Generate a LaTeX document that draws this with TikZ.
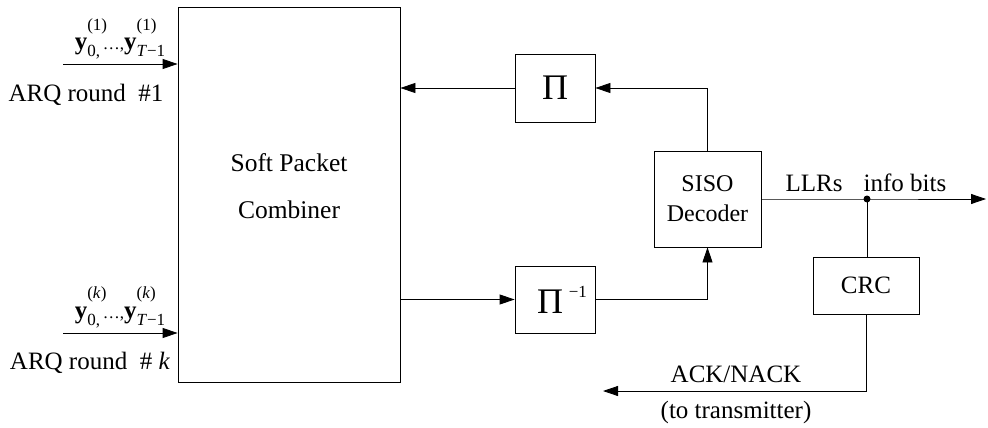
\documentclass[tikz,border=0pt]{standalone}
\usepackage{fontspec}
\setmainfont{Liberation Serif}
\usetikzlibrary{arrows.meta}
\newcommand{\scr}[1]{{\fontsize{17}{17}\selectfont #1}}
\newcommand{\yvar}[3]{\textbf{y}\rlap{\raisebox{0.8em}{\scr{#1}}}\raisebox{-0.28em}{\scr{#2}}#3}
\begin{document}
\begin{tikzpicture}[x=1pt,y=-1pt,
  font=\fontsize{25}{29}\selectfont,
  line width=0.8pt,
  box/.style={draw, inner sep=0pt},
  arr/.style={-{Triangle[length=15pt,width=10pt]}},
  lbl/.style={inner sep=0pt}]
\useasboundingbox (0,0) rectangle (988,428);
% blocks
\node[box, minimum width=222pt, minimum height=375pt] (comb) at (289,194.5) {};
\node[lbl, align=center, font=\fontsize{25.5}{47}\selectfont] (combtxt) at (289,186) {Soft Packet\\Combiner};
\node[box, minimum width=80pt, minimum height=68pt] (pi) at (555,88) {\fontsize{36}{36}\selectfont Π};
\node[box, minimum width=80pt, minimum height=67pt] (pinv) at (555,299.5) {};
\node[lbl] (pinvtxt) at (562,300) {\fontsize{36}{36}\selectfont Π\raisebox{0.45em}{\fontsize{17}{17}\selectfont\,\,−1}};
\node[box, minimum width=107pt, minimum height=96pt, align=center, font=\fontsize{24}{30}\selectfont] (siso) at (707.5,199) {SISO\\Decoder};
\node[box, minimum width=106pt, minimum height=57pt] (crc) at (866,285.5) {CRC};
% coordinates
\coordinate (in1) at (63,64);
\coordinate (in2) at (63,333);
\coordinate (dot) at (867,199);
\coordinate (out) at (986,199);
\coordinate (ack) at (603,391);
% connectors
\draw[arr] (in1) -- (in1 -| comb.west);
\draw[arr] (in2) -- (in2 -| comb.west);
\draw[arr] (pi.west) -- (pi.west -| comb.east);
\draw[arr] (siso.north) |- (pi.east);
\draw[arr] (pinv.west -| comb.east) -- (pinv.west);
\draw[arr] (pinv.east) -| (siso.south);
\draw[arr] (siso.east) -- (dot) -- (out);
\draw (dot) -- (dot |- crc.north);
\draw[arr] (crc.south) |- (ack);
\fill (dot) circle (3.5pt);
% labels
\node[lbl, anchor=base] (y1) at (120,50) {\yvar{(1)}{0,}{}\scr{\,…,}\yvar{(1)}{\textit{T}−1}{}};
\node[lbl, anchor=base] (y2) at (120,318) {\yvar{(\textit{k})}{0,}{}\scr{\,…,}\yvar{(\textit{k})}{\textit{T}−1}{}};
\node[lbl] (arq1) at (86,95) {ARQ round \ \#1};
\node[lbl] (arqk) at (90,363) {ARQ round \ \# \textit{k}};
\node[lbl] (llr) at (814,183) {LLRs};
\node[lbl] (info) at (905,183) {info bits};
\node[lbl] (acktxt) at (736,374) {ACK/NACK};
\node[lbl] (totx) at (736,412) {(to transmitter)};
\end{tikzpicture}
\end{document}
